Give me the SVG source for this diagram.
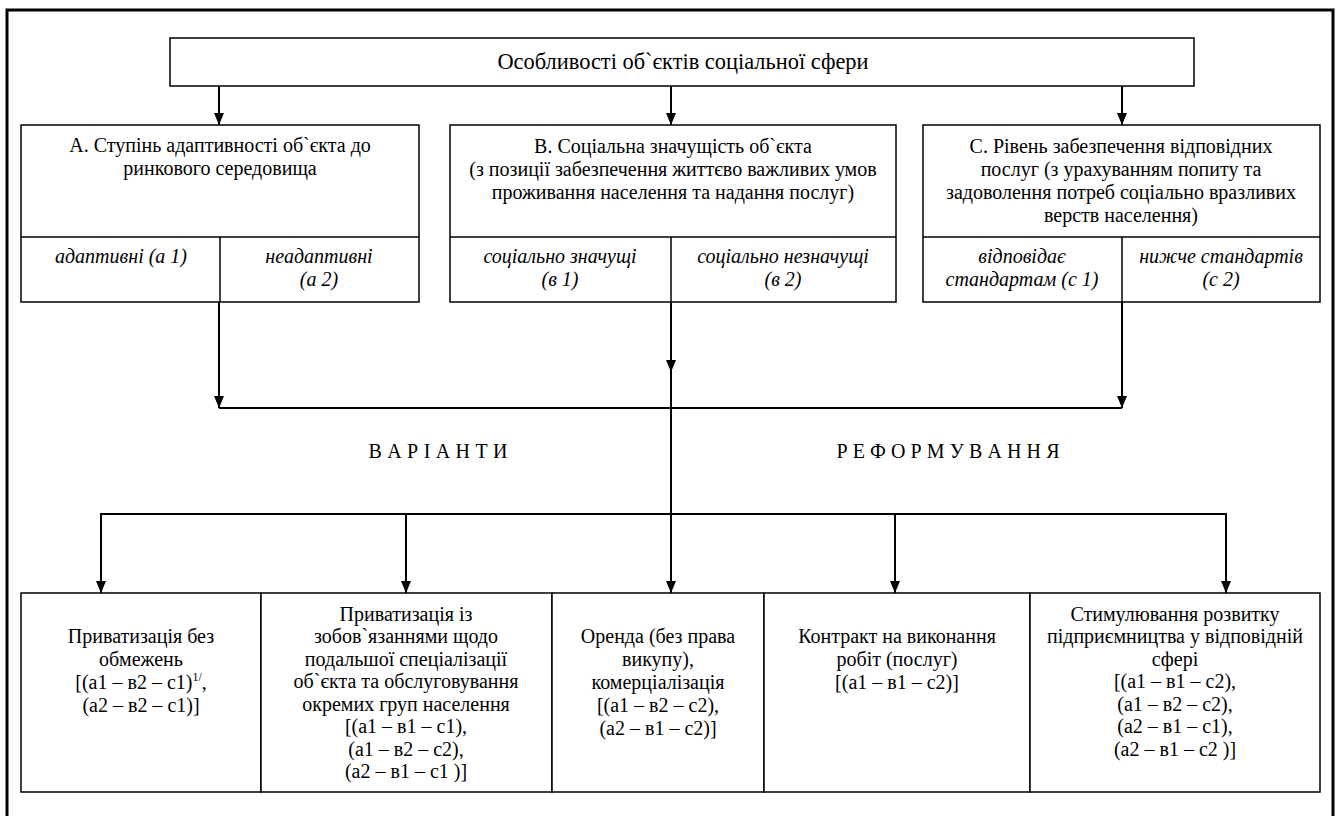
<svg xmlns="http://www.w3.org/2000/svg" width="1338" height="816" viewBox="0 0 1338 816">
<defs>
<marker id="ah" viewBox="0 0 12 10" refX="12" refY="5" markerWidth="12" markerHeight="10" markerUnits="userSpaceOnUse" orient="auto">
<path d="M0,0 L12,5 L0,10 Z" fill="#000"/>
</marker>
<style>
text{font-family:"Liberation Serif","Times New Roman",serif;font-size:20px;fill:#000;text-anchor:middle}
.it{font-style:italic}
.title{font-size:22.4px}
.box{fill:#fff;stroke:#000;stroke-width:1.5}
.ln{fill:none;stroke:#000;stroke-width:1.5}
.con{fill:none;stroke:#000;stroke-width:2}
.arr{fill:none;stroke:#000;stroke-width:2;marker-end:url(#ah)}
.sup{font-size:12px}
</style>
</defs>
<rect width="1338" height="816" fill="#fff"/>
<rect x="7" y="10" width="1326" height="830" fill="none" stroke="#000" stroke-width="3"/>

<g id="top">
<rect class="box" x="170" y="38" width="1024" height="48"/>
<text class="title" x="683" y="69">Особливості об`єктів соціальної сфери</text>
</g>

<g id="nodeA">
<rect class="box" x="21" y="125" width="398" height="177"/>
<line class="ln" x1="21" y1="237" x2="419" y2="237"/>
<line class="ln" x1="220" y1="237" x2="220" y2="302"/>
<text x="220" y="152">А. Ступінь адаптивності об`єкта до</text>
<text x="220" y="175">ринкового середовища</text>
<text class="it" x="121" y="263">адаптивні (а 1)</text>
<text class="it" x="319" y="263">неадаптивні</text>
<text class="it" x="319" y="286">(а 2)</text>
</g>

<g id="nodeB">
<rect class="box" x="450" y="125" width="446" height="177"/>
<line class="ln" x1="450" y1="237" x2="896" y2="237"/>
<line class="ln" x1="671" y1="237" x2="671" y2="302"/>
<text x="673" y="153">В. Соціальна значущість об`єкта</text>
<text x="673" y="176">(з позиції забезпечення життєво важливих умов</text>
<text x="673" y="199">проживання населення та надання послуг)</text>
<text class="it" x="560" y="263">соціально значущі</text>
<text class="it" x="560" y="286">(в 1)</text>
<text class="it" x="783" y="263">соціально незначущі</text>
<text class="it" x="783" y="286">(в 2)</text>
</g>

<g id="nodeC">
<rect class="box" x="923" y="125" width="397" height="177"/>
<line class="ln" x1="923" y1="237" x2="1320" y2="237"/>
<line class="ln" x1="1122" y1="237" x2="1122" y2="302"/>
<text x="1121" y="153">С. Рівень забезпечення відповідних</text>
<text x="1121" y="176">послуг (з урахуванням попиту та</text>
<text x="1121" y="199">задоволення потреб соціально вразливих</text>
<text x="1121" y="222">верств населення)</text>
<text class="it" x="1022" y="263">відповідає</text>
<text class="it" x="1022" y="286">стандартам (с 1)</text>
<text class="it" x="1221" y="263">нижче стандартів</text>
<text class="it" x="1221" y="286">(с 2)</text>
</g>

<g id="labels">
<text x="438" y="458" textLength="139" lengthAdjust="spacing">В А Р І А Н Т И</text>
<text x="948" y="458" textLength="223" lengthAdjust="spacing">Р Е Ф О Р М У В А Н Н Я</text>
</g>

<g id="v1">
<rect class="box" x="21" y="593" width="240" height="199"/>
<text x="141" y="643">Приватизація без</text>
<text x="141" y="666">обмежень</text>
<text x="141" y="689">[(а1 – в2 – с1)<tspan class="sup" dy="-8">1/</tspan><tspan dy="8">,</tspan></text>
<text x="141" y="712">(а2 – в2 – с1)]</text>
</g>

<g id="v2">
<rect class="box" x="261" y="593" width="291" height="199"/>
<text x="406" y="621">Приватизація із</text>
<text x="406" y="643">зобов`язаннями щодо</text>
<text x="406" y="666">подальшої спеціалізації</text>
<text x="406" y="688">об`єкта та обслуговування</text>
<text x="406" y="711">окремих груп населення</text>
<text x="406" y="733">[(а1 – в1 – с1),</text>
<text x="406" y="756">(а1 – в2 – с2),</text>
<text x="406" y="778">(а2 – в1 – с1 )]</text>
</g>

<g id="v3">
<rect class="box" x="552" y="593" width="212" height="199"/>
<text x="658" y="643">Оренда (без права</text>
<text x="658" y="666">викупу),</text>
<text x="658" y="689">комерціалізація</text>
<text x="658" y="712">[(а1 – в2 – с2),</text>
<text x="658" y="735">(а2 – в1 – с2)]</text>
</g>

<g id="v4">
<rect class="box" x="764" y="593" width="266" height="199"/>
<text x="897" y="643">Контракт на виконання</text>
<text x="897" y="666">робіт (послуг)</text>
<text x="897" y="689">[(а1 – в1 – с2)]</text>
</g>

<g id="v5">
<rect class="box" x="1030" y="593" width="290" height="199"/>
<text x="1175" y="621">Стимулювання розвитку</text>
<text x="1175" y="643">підприємництва у відповідній</text>
<text x="1175" y="666">сфері</text>
<text x="1175" y="688">[(а1 – в1 – с2),</text>
<text x="1175" y="711">(а1 – в2 – с2),</text>
<text x="1175" y="733">(а2 – в1 – с1),</text>
<text x="1175" y="756">(а2 – в1 – с2 )]</text>
</g>

<g id="connectors">
<line class="arr" x1="219" y1="86" x2="219" y2="125"/>
<line class="arr" x1="671" y1="86" x2="671" y2="125"/>
<line class="arr" x1="1122" y1="86" x2="1122" y2="125"/>
<line class="arr" x1="219" y1="302" x2="219" y2="408"/>
<line class="arr" x1="1122" y1="302" x2="1122" y2="408"/>
<line class="con" x1="219" y1="408" x2="1122" y2="408"/>
<line class="arr" x1="671" y1="302" x2="671" y2="372"/>
<line class="con" x1="671" y1="365" x2="671" y2="514"/>
<line class="con" x1="100" y1="514" x2="1227" y2="514"/>
<line class="arr" x1="101" y1="514" x2="101" y2="593"/>
<line class="arr" x1="406" y1="514" x2="406" y2="593"/>
<line class="arr" x1="671" y1="514" x2="671" y2="593"/>
<line class="arr" x1="895" y1="514" x2="895" y2="593"/>
<line class="arr" x1="1226" y1="514" x2="1226" y2="593"/>
</g>
</svg>
